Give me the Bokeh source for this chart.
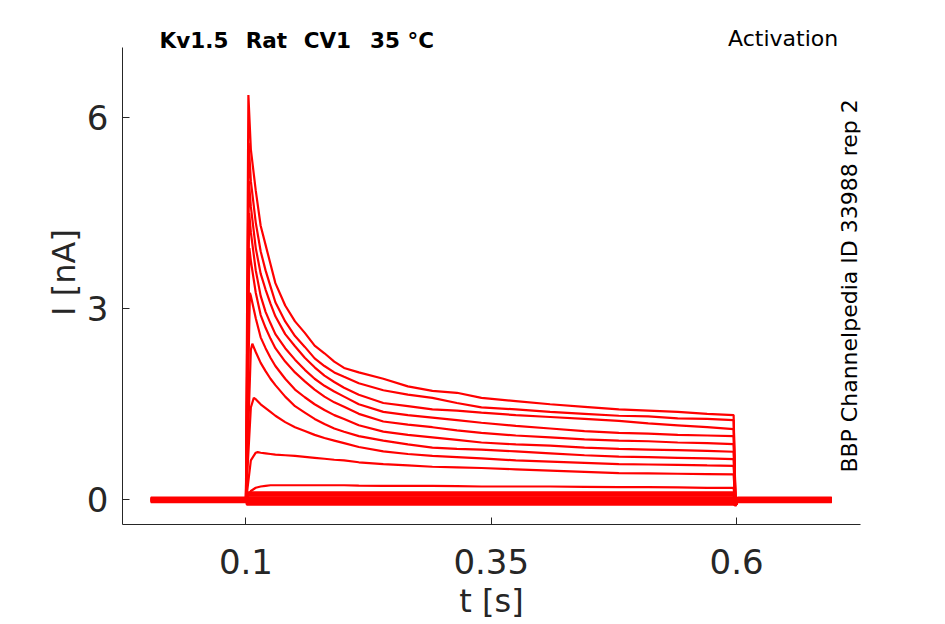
from bokeh.plotting import figure
from bokeh.models import Label, Range1d, FixedTicker
from bokeh.embed import file_html
from bokeh.resources import INLINE
import math

# ---- data (t in s, I in nA) ----
T_GRID = [0.105, 0.11, 0.115, 0.12, 0.125, 0.13, 0.14, 0.15, 0.16, 0.17, 0.18,
          0.19, 0.2, 0.215, 0.24, 0.265, 0.29, 0.315, 0.34, 0.375, 0.41, 0.445,
          0.48, 0.51, 0.54, 0.57, 0.597]

PEAK_T = [0.1025, 0.1028, 0.103, 0.1033, 0.1035, 0.104, 0.1065, 0.108, 0.112, 0.125]
PEAK_I = [6.35, 5.6, 5.0, 4.5, 3.95, 3.25, 2.45, 1.6, 0.75, 0.23]

I1 = [5.5, 4.85, 4.3, 4.0, 3.7, 3.4, 3.05, 2.8, 2.62, 2.42, 2.3, 2.17, 2.07, 2.0,
      1.9, 1.78, 1.71, 1.68, 1.6, 1.55, 1.5, 1.46, 1.42, 1.40, 1.38, 1.35, 1.33]
I2 = [5.0, 4.35, 3.9, 3.6, 3.35, 3.1, 2.8, 2.57, 2.4, 2.22, 2.1, 2.0, 1.93, 1.83,
      1.72, 1.65, 1.6, 1.52, 1.45, 1.42, 1.38, 1.35, 1.32, 1.31, 1.28, 1.27, 1.25]
I3 = [4.6, 3.95, 3.55, 3.3, 3.08, 2.88, 2.6, 2.41, 2.23, 2.08, 1.95, 1.85, 1.76, 1.65,
      1.52, 1.47, 1.42, 1.40, 1.37, 1.33, 1.30, 1.27, 1.24, 1.20, 1.17, 1.14, 1.11]
I4 = [4.2, 3.6, 3.2, 2.95, 2.77, 2.6, 2.38, 2.2, 2.04, 1.9, 1.79, 1.7, 1.62, 1.5,
      1.38, 1.33, 1.29, 1.25, 1.21, 1.16, 1.12, 1.08, 1.05, 1.04, 1.02, 1.01, 1.0]
I5 = [3.75, 3.25, 2.9, 2.7, 2.53, 2.38, 2.17, 2.0, 1.86, 1.73, 1.62, 1.53, 1.46, 1.35,
      1.23, 1.18, 1.14, 1.09, 1.05, 1.01, 0.98, 0.95, 0.93, 0.92, 0.90, 0.89, 0.875]
I6 = [3.2, 2.85, 2.55, 2.38, 2.23, 2.1, 1.9, 1.73, 1.61, 1.5, 1.41, 1.33, 1.27, 1.17,
      1.07, 1.02, 0.98, 0.94, 0.90, 0.87, 0.85, 0.82, 0.80, 0.79, 0.78, 0.77, 0.755]
I7 = [2.35, 2.32, 2.15, 2.02, 1.9, 1.8, 1.62, 1.47, 1.37, 1.27, 1.19, 1.12, 1.07, 1.0,
      0.93, 0.87, 0.82, 0.80, 0.79, 0.76, 0.73, 0.70, 0.68, 0.67, 0.66, 0.65, 0.64]
I8 = [1.45, 1.58, 1.5, 1.44, 1.38, 1.32, 1.22, 1.14, 1.08, 1.02, 0.97, 0.93, 0.89, 0.83,
      0.76, 0.72, 0.69, 0.67, 0.65, 0.62, 0.60, 0.58, 0.56, 0.555, 0.55, 0.54, 0.535]
I9 = [0.62, 0.74, 0.74, 0.73, 0.72, 0.71, 0.70, 0.69, 0.675, 0.66, 0.645, 0.63, 0.62, 0.59,
      0.56, 0.54, 0.52, 0.51, 0.50, 0.48, 0.46, 0.44, 0.42, 0.415, 0.41, 0.405, 0.40]
I10 = [0.14, 0.19, 0.21, 0.22, 0.23, 0.23, 0.23, 0.23, 0.23, 0.23, 0.23, 0.23, 0.23, 0.225,
       0.22, 0.22, 0.22, 0.215, 0.21, 0.21, 0.21, 0.205, 0.20, 0.20, 0.195, 0.19, 0.19]
TRACES = [I1, I2, I3, I4, I5, I6, I7, I8, I9, I10]

# near-zero sweeps (flat levels during the pulse)
SMALL_LEVELS = [0.12, 0.09, 0.065, 0.04, 0.02, 0.0, -0.025, -0.05, -0.075]
# holding baselines of the sweeps
BASE_LEVELS = [0.025, -0.015, 0.01, -0.03, 0.015, 0.0, -0.01, 0.03, -0.025, 0.012,
               -0.012, 0.02, -0.02, 0.005, -0.005, 0.028, -0.035, 0.035, 0.0]

T_START, T_ON, T_OFF, T_END = 0.003, 0.1, 0.599, 0.697
OFF_DIP = -0.09

X_TICKS = [0.1, 0.35, 0.6]
Y_TICKS = [0, 3, 6]
Y_AXIS_TOP = 7.094

TITLE_WORDS = ["Kv1.5", "Rat", "CV1", "35 °C"]
TITLE_X = [0.04705, 0.12088, 0.18299, 0.25906]

xs, ys = [], []
k = 0
for pt, pi, tr in zip(PEAK_T, PEAK_I, TRACES):
    b = BASE_LEVELS[k]; k += 1
    pts = [(T_START, b), (T_ON, b), (pt, pi)] + list(zip(T_GRID, tr))
    pts = sorted(pts, key=lambda q: q[0])
    pts += [(T_OFF, OFF_DIP), (T_OFF + 0.002, b), (T_END, b)]
    xs.append([q[0] for q in pts]); ys.append([q[1] for q in pts])
for lv in SMALL_LEVELS:
    b = BASE_LEVELS[k]; k += 1
    pts = [(T_START, b), (T_ON, b), (T_ON + 0.001, lv), (T_OFF - 0.002, lv),
           (T_OFF, OFF_DIP), (T_OFF + 0.002, b), (T_END, b)]
    xs.append([q[0] for q in pts]); ys.append([q[1] for q in pts])

Y0 = -0.386
p = figure(width=940, height=622, output_backend="svg", toolbar_location=None,
           x_range=Range1d(-0.0258, 0.7263), y_range=Range1d(Y0, 7.52),
           min_border_left=122, min_border_right=80, min_border_top=20,
           min_border_bottom=96)
p.outline_line_color = None
p.grid.visible = False
p.background_fill_color = "white"

p.multi_line(xs, ys, line_color="#ff0000", line_width=2.2)

ax_col = "#262626"
FONT = "DejaVu Sans"
for ax in (p.xaxis[0], p.yaxis[0]):
    ax.axis_line_color = ax_col
    ax.major_tick_line_color = ax_col
    ax.major_tick_in = 7
    ax.major_tick_out = 0
    ax.minor_tick_line_color = None
    ax.major_label_text_font = FONT
    ax.major_label_text_font_size = "34px"
    ax.major_label_text_color = ax_col
    ax.axis_label_text_font = FONT
    ax.axis_label_text_font_size = "32px"
    ax.axis_label_text_font_style = "normal"
    ax.axis_label_text_color = ax_col
p.yaxis.bounds = (Y0, Y_AXIS_TOP)
p.xaxis.ticker = FixedTicker(ticks=X_TICKS)
p.yaxis.ticker = FixedTicker(ticks=Y_TICKS)
p.xaxis.axis_label = "t [s]"
p.yaxis.axis_label = "I [nA]"
p.xaxis.major_label_standoff = 24
p.yaxis.major_label_standoff = 14
p.xaxis.axis_label_standoff = 5
p.yaxis.axis_label_standoff = 1

for word, wx in zip(TITLE_WORDS, TITLE_X):
    p.add_layout(Label(x=wx, y=7.21, text=word,
                       text_font=FONT, text_font_size="21.5px", text_font_style="bold",
                       text_align="center", text_baseline="middle", text_color="black"))
p.add_layout(Label(x=0.6474, y=7.24, text="Activation",
                   text_font=FONT, text_font_size="22px",
                   text_align="center", text_baseline="middle", text_color="black"))
p.add_layout(Label(x=0.715, y=3.356, text="BBP Channelpedia ID 33988 rep 2",
                   angle=math.pi / 2, text_font=FONT, text_font_size="22px",
                   text_align="center", text_baseline="middle", text_color="black"))

open("out.html", "w").write(file_html(p, INLINE))
